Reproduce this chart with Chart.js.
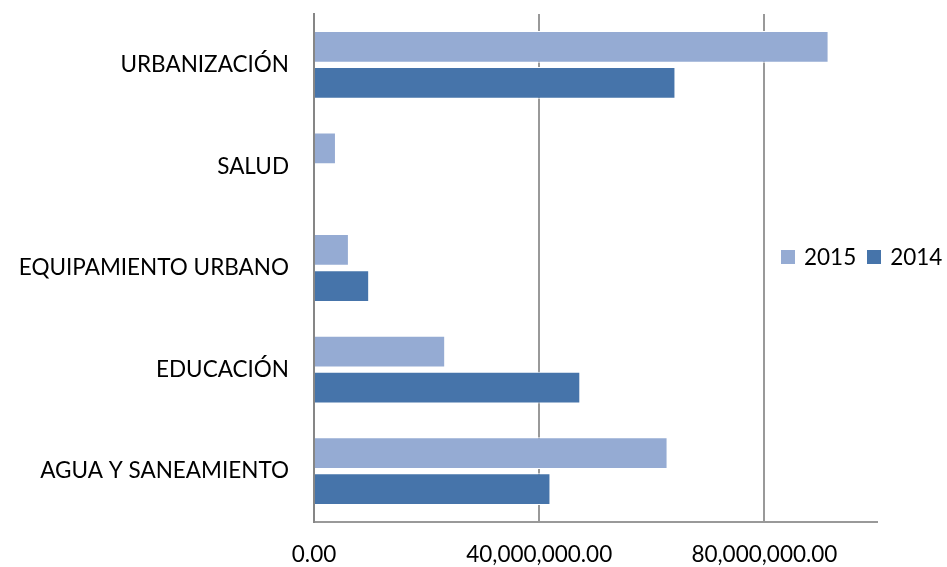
<!DOCTYPE html>
<html>
<head>
<meta charset="utf-8">
<script src="https://cdn.jsdelivr.net/npm/chart.js@4.4.1/dist/chart.umd.min.js"></script>
<style>
  body { margin: 0; background: #fff; }
  #wrap { position: relative; width: 947px; height: 567px; }
  #legend { position: absolute; left: 781px; top: 243px; font: 22.5px Lato, sans-serif; color: #000; white-space: nowrap; }
  #legend span.box { display: inline-block; width: 14px; height: 14px; margin-right: 9px; vertical-align: 1px; }
  #legend span.item { margin-right: 11px; }
</style>
</head>
<body>
<div id="wrap">
  <canvas id="myChart" width="947" height="567"></canvas>
  <div id="legend"></div>
</div>
<script>
const categories = ['URBANIZACIÓN', 'SALUD', 'EQUIPAMIENTO URBANO', 'EDUCACIÓN', 'AGUA Y SANEAMIENTO'];
const values2015 = [91400000, 3900000, 6200000, 23300000, 62800000];
const values2014 = [64200000, 0, 9800000, 47300000, 42000000];
const tickValues = [0, 40000000, 80000000];
const axisMax = 100000000;

const colors = { '2015': '#95abd3', '2014': '#4674aa' };
const axisGray = '#868686';
const gridGray = '#999999';

// legend sits in a single row on the right, like the original
var legendHtml = '';
['2015', '2014'].forEach(function(name) {
  legendHtml += '<span class="item"><span class="box" style="background:' + colors[name] + '"></span>' + name + '</span>';
});
document.getElementById('legend').innerHTML = legendHtml;

var myChart = new Chart(document.getElementById('myChart'), {
  type: 'bar',
  data: {
    labels: categories,
    datasets: [{
      label: '2015',
      data: values2015,
      backgroundColor: colors['2015'],
      borderColor: '#ffffff',
      borderWidth: 1,
      barPercentage: 0.88,
      categoryPercentage: 0.71
    }, {
      label: '2014',
      data: values2014,
      backgroundColor: colors['2014'],
      borderColor: '#ffffff',
      borderWidth: 1,
      barPercentage: 0.88,
      categoryPercentage: 0.71
    }]
  },
  options: {
    indexAxis: 'y',
    responsive: false,
    animation: false,
    layout: { padding: { top: 14, right: 70, left: 0, bottom: 0 } },
    plugins: {
      legend: { display: false },
      tooltip: { enabled: false }
    },
    scales: {
      x: {
        min: 0,
        max: axisMax,
        afterBuildTicks: function(scale) {
          scale.ticks = tickValues.map(function(v) { return { value: v }; });
        },
        afterFit: function(scale) {
          scale.height = 45;
          scale.paddingLeft = 0;
          scale.paddingRight = 0;
        },
        border: { display: true, color: gridGray, width: 2 },
        grid: {
          drawTicks: false,
          color: function(ctx) { return ctx.tick && ctx.tick.value === 0 ? 'rgba(0,0,0,0)' : gridGray; },
          lineWidth: 2
        },
        ticks: {
          padding: 19,
          color: '#000',
          font: { family: 'Lato', size: 22.5 },
          maxRotation: 0,
          callback: function(v) {
            return Number(v).toLocaleString('en-US', { minimumFractionDigits: 2, maximumFractionDigits: 2 });
          }
        }
      },
      y: {
        afterFit: function(scale) {
          scale.width = 314;
          scale.paddingTop = 0;
          scale.paddingBottom = 0;
        },
        border: { display: true, color: axisGray, width: 2 },
        grid: { drawOnChartArea: false, drawTicks: false },
        ticks: {
          padding: 25,
          color: '#000',
          font: { family: 'Lato', size: 22.5 }
        }
      }
    }
  }
});
</script>
</body>
</html>
